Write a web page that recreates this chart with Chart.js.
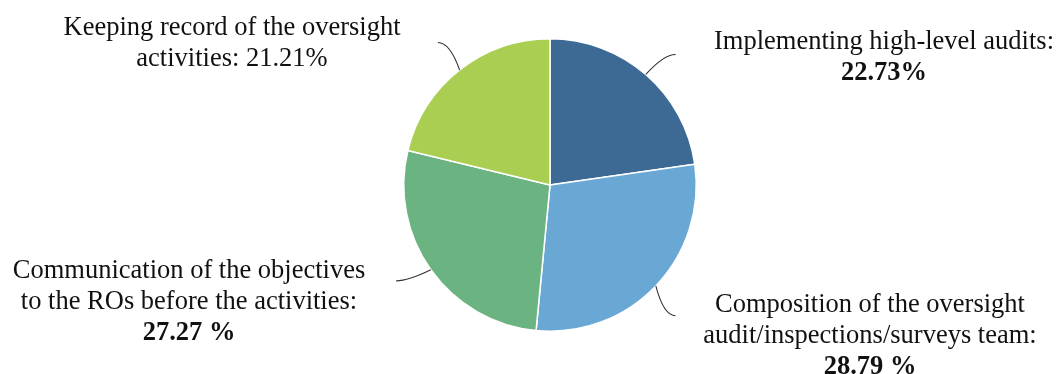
<!DOCTYPE html>
<html>
<head>
<meta charset="utf-8">
<script src="https://cdn.jsdelivr.net/npm/chart.js@4.4.1/dist/chart.umd.min.js"></script>
<style>
  html, body { margin: 0; padding: 0; background: #fff; }
  #wrap { width: 1057px; height: 374px; }
</style>
</head>
<body>
<div id="wrap"><canvas id="pieChart" width="1057" height="374"></canvas></div>
<script>
// Shares of the oversight activities
const categories = [
  'Implementing high-level audits',
  'Composition of the oversight audit/inspections/surveys team',
  'Communication of the objectives to the ROs before the activities',
  'Keeping record of the oversight activities'
];
const shares = [22.73, 28.79, 27.27, 21.21];
const sliceColors = ['#3d6a95', '#69a8d4', '#6bb482', '#a9ce52'];

// label text, [text, bold]
const labelLines = [
  [['Implementing high-level audits:', false], ['22.73%', true]],
  [['Composition of the oversight', false], ['audit/inspections/surveys team:', false], ['28.79 %', true]],
  [['Communication of the objectives', false], ['to the ROs before the activities:', false], ['27.27 %', true]],
  [['Keeping record of the oversight', false], ['activities: 21.21%', false]]
];

// where each label block sits (center x, first baseline y)
const labelPos = [
  { x: 884, y: 49 },
  { x: 870, y: 312 },
  { x: 189, y: 278 },
  { x: 232, y: 35 }
];
const leaderBend = [3, 2.5, 3.5, 0]; // degrees

const calloutPlugin = {
  id: 'callouts',
  afterDraw(chart) {
    const ctx = chart.ctx;
    const arcs = chart.getDatasetMeta(0).data;
    ctx.save();
    arcs.forEach((arc, i) => {
      const p = arc.getProps(['x', 'y', 'startAngle', 'endAngle', 'outerRadius'], true);
      const mid = (p.startAngle + p.endAngle) / 2;
      const R = p.outerRadius;
      const end = mid + leaderBend[i] * Math.PI / 180;
      const side = Math.cos(mid) > 0 ? 1 : -1;
      const sx = p.x + Math.cos(mid) * R;
      const sy = p.y + Math.sin(mid) * R;
      const ex = p.x + Math.cos(end) * (R + 35);
      const ey = p.y + Math.sin(end) * (R + 35);
      ctx.beginPath();
      ctx.moveTo(sx, sy);
      ctx.quadraticCurveTo(ex - side * 12, ey, ex, ey);
      ctx.strokeStyle = '#333';
      ctx.lineWidth = 1.1;
      ctx.stroke();

      ctx.fillStyle = '#111';
      ctx.textAlign = 'center';
      ctx.textBaseline = 'alphabetic';
      labelLines[i].forEach((ln, j) => {
        ctx.font = (ln[1] ? 'bold ' : '') + '26.5px "Liberation Serif", "Times New Roman", serif';
        ctx.fillText(ln[0], labelPos[i].x, labelPos[i].y + j * 31);
      });
    });
    ctx.restore();
  }
};

const pieCtx = document.getElementById('pieChart').getContext('2d');
const pieChart = new Chart(pieCtx, {
  type: 'pie',
  data: {
    labels: categories,
    datasets: [{
      data: shares,
      backgroundColor: sliceColors,
      borderColor: '#ffffff',
      borderWidth: 1.5
    }]
  },
  options: {
    responsive: false,
    animation: false,
    layout: {
      padding: { top: 38, bottom: 42, left: 403, right: 360 }
    },
    plugins: {
      legend: { display: false },
      tooltip: { enabled: false }
    }
  },
  plugins: [calloutPlugin]
});
</script>
</body>
</html>
